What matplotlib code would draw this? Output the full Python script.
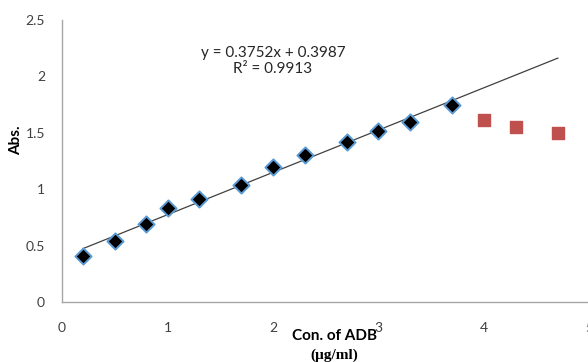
import numpy as np
import matplotlib.pyplot as plt

# calibration standards (ug/ml) and absorbance
conc = [0.2, 0.5, 0.8, 1.0, 1.3, 1.7, 2.0, 2.3, 2.7, 3.0, 3.3, 3.7]
absorb = [0.41, 0.54, 0.69, 0.83, 0.91, 1.04, 1.20, 1.30, 1.42, 1.52, 1.60, 1.75]

# points beyond the linear range
conc_high = [4.0, 4.3, 4.7]
absorb_high = [1.61, 1.55, 1.50]

slope = 0.3752
intercept = 0.3987
r2 = 0.9913

plt.rcParams['font.family'] = ['Lato', 'DejaVu Sans']

W, H = 588, 362
fig = plt.figure(figsize=(W / 100, H / 100), dpi=100)
ax = fig.add_axes([62 / W, 60 / H, 527.5 / W, 282 / H])

# trendline, extended forward to the last point
xt = np.array([conc[0], conc_high[-1]])
ax.plot(xt, slope * xt + intercept, color='#404040', lw=0.9, zorder=2)

ax.scatter(conc, absorb, marker='D', s=68, color='black',
           edgecolors='#5b9bd5', linewidths=1.4, zorder=3)
ax.scatter(conc_high, absorb_high, marker='s', s=85, color='#c0504d',
           edgecolors='#c0504d', zorder=3)

fig.text(273 / W, 1 - 61 / H, f'y = {slope}x + {intercept}\nR² = {r2}',
         ha='center', va='center', fontsize=11, color='#262626',
         linespacing=1.2)

ax.set_xlim(0, 5)
ax.set_ylim(0, 2.5)
ax.set_xticks([0, 1, 2, 3, 4, 5])
ax.set_yticks([0, 0.5, 1, 1.5, 2, 2.5])
ax.set_yticklabels(['0', '0.5', '1', '1.5', '2', '2.5'])
ax.tick_params(length=0, labelsize=10, labelcolor='#404040')
ax.tick_params(axis='x', pad=14.5)
ax.tick_params(axis='y', pad=12.2)

for side in ['top', 'right']:
    ax.spines[side].set_visible(False)
for side in ['left', 'bottom']:
    ax.spines[side].set_color('#a6a6a6')
    ax.spines[side].set_linewidth(1.0)

fig.text(16 / W, 1 - 140 / H, 'Abs.', rotation=90, ha='center', va='center',
         fontsize=11, fontweight='bold')

fig.text(335 / W, 1 - 336 / H, 'Con. of ADB', ha='center', va='center',
         fontsize=11, fontweight='bold')
fig.text(334 / W, 1 - 355 / H, '(µg/ml)', ha='center', va='center',
         fontsize=11, fontweight='bold', family='Liberation Serif')

fig.savefig('out.png', dpi=100)
